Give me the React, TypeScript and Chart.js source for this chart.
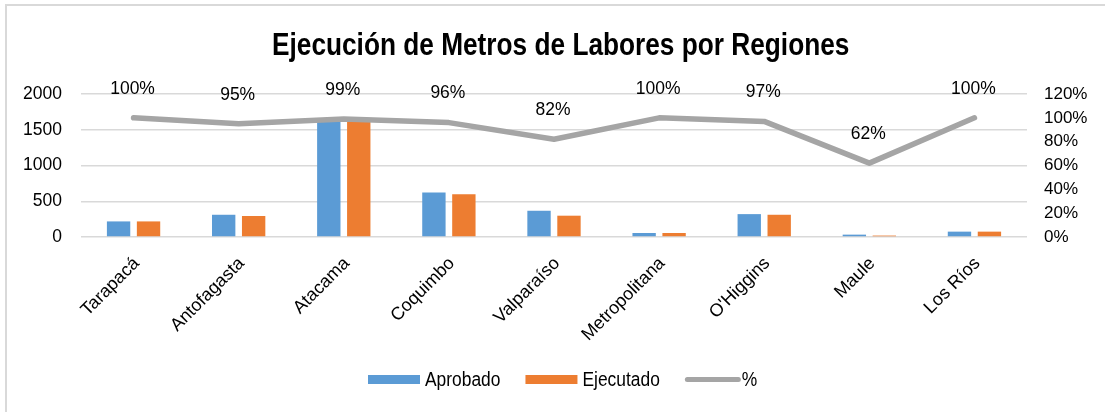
import React, { useEffect, useRef } from "react";
import { Chart, registerables } from "chart.js";

Chart.register(...registerables);

const categories = ["Tarapacá", "Antofagasta", "Atacama", "Coquimbo", "Valparaíso", "Metropolitana", "O'Higgins", "Maule", "Los Ríos"];
const aprobado = [218, 311, 1620, 621, 367, 56, 320, 33, 75];
const ejecutado = [218, 294, 1612, 598, 298, 56, 311, 20, 75];
const porcentaje = [1.0, 0.95, 0.99, 0.96, 0.82, 1.0, 0.97, 0.62, 1.0];
const leftTicks = [0, 500, 1000, 1500, 2000];
const titleText = "Ejecución de Metros de Labores por Regiones";

const FONT = "'Liberation Sans', Arial, sans-serif";
const BLUE = "#5B9BD5";
const ORANGE = "#ED7D31";
const GRAY = "#A5A5A5";

function narrowText(ctx: any, text: string, x: number, y: number, sx: number, align: string) {
  ctx.save();
  ctx.translate(x, y);
  ctx.scale(sx, 1);
  ctx.textAlign = align;
  ctx.fillText(text, 0, 0);
  ctx.restore();
}

const overlayPlugin = {
  id: "overlay",
  afterDatasetsDraw(chart: any) {
    const ctx = chart.ctx;
    ctx.save();
    const meta = chart.getDatasetMeta(2);
    ctx.fillStyle = "#000";
    ctx.font = `19px ${FONT}`;
    ctx.textBaseline = "middle";
    meta.data.forEach((pt: any, i: number) => {
      narrowText(ctx, Math.round(porcentaje[i] * 100) + "%", pt.x - 1, pt.y - 29.5, 0.92, "center");
    });
    ctx.restore();
  },
  afterDraw(chart: any) {
    const ctx = chart.ctx;
    ctx.save();
    // title
    ctx.fillStyle = "#000";
    ctx.font = `bold 32px ${FONT}`;
    ctx.textBaseline = "alphabetic";
    narrowText(ctx, titleText, 272, 55, 0.82, "left");
    // legend
    const y = 379.5;
    ctx.font = `20px ${FONT}`;
    ctx.textBaseline = "middle";
    const sx = 0.87;
    const items = [
      { label: chart.data.datasets[0].label, color: BLUE, type: "box" },
      { label: chart.data.datasets[1].label, color: ORANGE, type: "box" },
      { label: chart.data.datasets[2].label, color: GRAY, type: "line" },
    ];
    const boxW = 52;
    const gapText = 5;
    const gapItem = 25;
    let x = 368;
    items.forEach((it) => {
      if (it.type === "box") {
        ctx.fillStyle = it.color;
        ctx.fillRect(x, y - 4.5, boxW, 9);
      } else {
        ctx.strokeStyle = it.color;
        ctx.lineWidth = 5;
        ctx.lineCap = "round";
        ctx.beginPath();
        ctx.moveTo(x + 2.5, y);
        ctx.lineTo(x + boxW + 1.5, y);
        ctx.stroke();
      }
      x += boxW + gapText;
      ctx.fillStyle = "#000";
      narrowText(ctx, it.label, x, y + 1, sx, "left");
      x += ctx.measureText(it.label).width * sx + gapItem;
    });
    ctx.restore();
  },
};

export default function App() {
  const ref = useRef<HTMLCanvasElement | null>(null);
  useEffect(() => {
    if (!ref.current) return;
    const chart = new Chart(ref.current, {
      type: "bar",
      data: {
        labels: categories,
        datasets: [
          { type: "bar", label: "Aprobado", data: aprobado, backgroundColor: BLUE, yAxisID: "y", order: 2, categoryPercentage: 0.57, barPercentage: 0.78 },
          { type: "bar", label: "Ejecutado", data: ejecutado, backgroundColor: ORANGE, yAxisID: "y", order: 2, categoryPercentage: 0.57, barPercentage: 0.78 },
          { type: "line", label: "%", data: porcentaje, borderColor: GRAY, backgroundColor: GRAY, borderWidth: 5.5, pointRadius: 0, tension: 0, yAxisID: "y1", order: 0, borderCapStyle: "round", borderJoinStyle: "round" } as any,
        ],
      },
      plugins: [overlayPlugin],
      options: {
        animation: false,
        responsive: false,
        maintainAspectRatio: false,
        layout: { padding: { top: 94, bottom: 0, left: 0, right: 0 } },
        plugins: {
          legend: { display: false },
          title: { display: false },
          tooltip: { enabled: false },
        },
        scales: {
          x: {
            grid: { display: false, drawTicks: false },
            border: { display: false },
            ticks: {
              color: "#000",
              font: { family: FONT, size: 18 },
              maxRotation: 45,
              minRotation: 45,
              padding: 16,
              labelOffset: 3,
              autoSkip: false,
            },
            afterFit(scale: any) {
              scale.height = 412 - 237;
            },
          },
          y: {
            position: "left",
            min: 0,
            max: 2000,
            afterBuildTicks(scale: any) {
              scale.ticks = leftTicks.map((v) => ({ value: v }));
            },
            grid: { color: "#D9D9D9", lineWidth: 1.5, drawTicks: false },
            border: { display: false },
            ticks: {
              color: "#000",
              font: { family: FONT, size: 17.5 },
              padding: 19,
              callback: (v: any) => String(v),
            },
            afterFit(scale: any) {
              scale.width = 81;
            },
          },
          y1: {
            position: "right",
            min: 0,
            max: 1.2,
            grid: { drawOnChartArea: false, drawTicks: false },
            border: { display: false },
            ticks: {
              stepSize: 0.2,
              autoSkip: false,
              color: "#000",
              font: { family: FONT, size: 17 },
              padding: 17,
              callback: (v: any) => Math.round(Number(v) * 100) + "%",
            },
            afterFit(scale: any) {
              scale.width = 1105 - 1027;
            },
          },
        },
      },
    });
    return () => chart.destroy();
  }, []);
  return (
    <div style={{ position: "fixed", left: 0, top: 0, width: 1105, height: 412, background: "#fff", overflow: "hidden" }}>
      <div style={{ position: "absolute", left: 5, top: 4, width: 1200, height: 500, border: "2px solid #D9D9D9", boxSizing: "border-box" }} />
      <canvas ref={ref} width={1105} height={412} style={{ position: "absolute", left: 0, top: 0, width: 1105, height: 412 }} />
    </div>
  );
}
